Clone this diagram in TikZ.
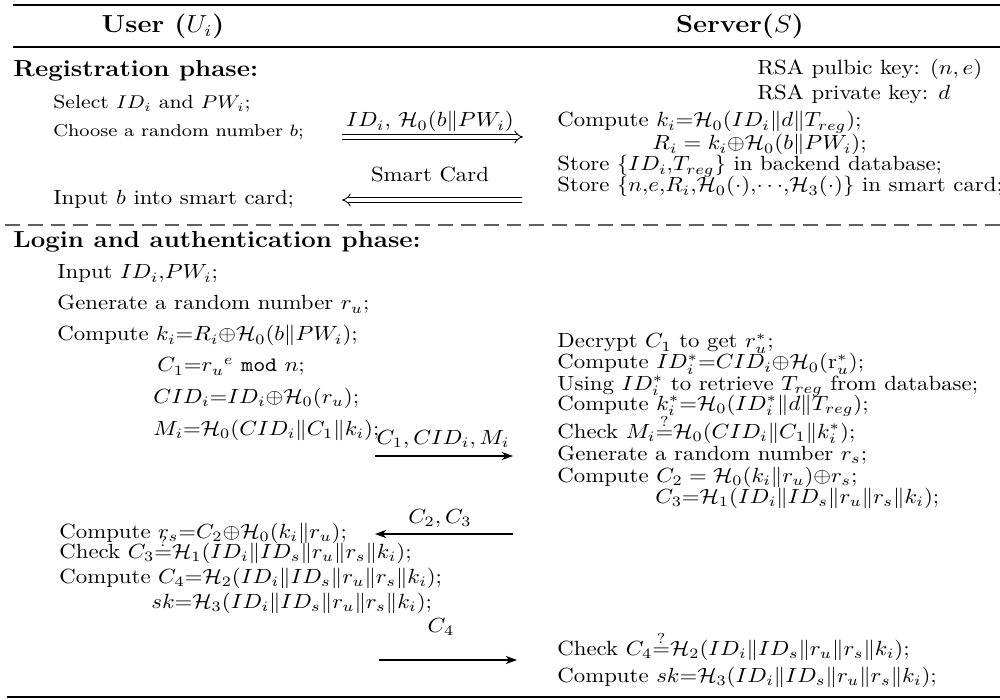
\documentclass[tikz,border=0pt]{standalone}
\usepackage{graphicx}
\usetikzlibrary{arrows.meta}
\newcommand{\vsq}[1]{\scalebox{1}[0.9]{#1}}
\begin{document}
\begin{tikzpicture}[x=0.4386pt,y=-0.4386pt,
  txt/.style={inner sep=0pt, anchor=base west, font=\fontsize{10}{12}\selectfont},
  selecttxt/.style={inner sep=0pt, anchor=base west, font=\fontsize{9.25}{11}\selectfont},
  smalltxt/.style={inner sep=0pt, anchor=base west, font=\fontsize{8.4}{10}\selectfont},
  lbl/.style={inner sep=0pt, anchor=base, font=\fontsize{10}{12}\selectfont},
  phase/.style={inner sep=0pt, anchor=base west, font=\fontsize{11.3}{13}\selectfont\bfseries},
  head/.style={inner sep=0pt, anchor=base, font=\large\bfseries},
  dbl/.style={double, double distance=1.6pt, line width=0.4pt},
  sgl/.style={line width=0.5pt},
  tip/.tip={Stealth[length=5pt,width=3.6pt,inset=1.6pt]}]
\useasboundingbox (0,0) rectangle (1000,700);
% rules
\draw[line width=1.2pt] (13,5) -- (1000,5);
\draw[line width=0.6pt] (13,47) -- (1000,47);
\draw[line width=1.2pt] (7,697) -- (1000,697);
\draw[gray!75!black, line width=0.7pt, dash pattern=on 6.5pt off 3.5pt] (5,225) -- (1000,225);
% headers
\node[head] (hu) at (163,33) {\vsq{User ($U_i$)}};
\node[head] (hs) at (740,33) {\vsq{Server($S$)}};
% registration
\node[phase] (reg) at (13,77) {\vsq{Registration phase:}};
\node[txt] (rsa1) at (757,75) {\vsq{RSA pulbic key: $(n,e)$}};
\node[txt] (rsa2) at (757,100) {\vsq{RSA private key: $d$}};
\node[selecttxt] (u1) at (53,109) {\vsq{Select $ID_i$ and $PW_i$;}};
\node[smalltxt] (u2) at (53,137) {\vsq{Choose a random number $b$;}};
\node[txt] (u3) at (53,205) {\vsq{Input $b$ into smart card;}};
\node[txt] (s1) at (557,127) {\vsq{Compute $k_i{=}\mathcal{H}_0(ID_i\|d\|T_{reg})$;}};
\node[txt] (s2) at (652,150) {\vsq{$R_i = k_i{\oplus}\mathcal{H}_0(b\|PW_i)$;}};
\node[txt] (s3) at (557,171) {\vsq{Store $\{ID_i{,}T_{reg}\}$ in backend database;}};
\node[txt] (s4) at (557,192) {\vsq{Store $\{n{,}e{,}R_i{,}\mathcal{H}_0(\cdot){,}{\cdots}{,}\mathcal{H}_3(\cdot)\}$ in smart card;}};
\coordinate (a1s) at (342,137);
\coordinate (a1e) at (523,137);
\draw[dbl, -{Implies}] (a1s) -- (a1e);
\node[lbl] (l1) at (430,127) {\vsq{$ID_i$, $\mathcal{H}_0(b\|PW_i)$}};
\coordinate (a2s) at (522,200);
\coordinate (a2e) at (342,200);
\draw[dbl, -{Implies}] (a2s) -- (a2e);
\node[lbl] (l2) at (430,182) {\vsq{Smart Card}};
% login
\node[phase] (log) at (13,248) {\vsq{Login and authentication phase:}};
\node[txt] (v1) at (57,279) {\vsq{Input $ID_i{,}PW_i$;}};
\node[txt] (v2) at (57,310) {\vsq{Generate a random number $r_u$;}};
\node[txt] (v3) at (57,341) {\vsq{Compute $k_i{=}R_i{\oplus}\mathcal{H}_0(b\|PW_i)$;}};
\node[txt] (v4) at (157,372) {\vsq{$C_1{=}{r_u}^{e}$ \texttt{mod} $n$;}};
\node[txt] (v5) at (153,403) {\vsq{$CID_i{=}ID_i{\oplus}\mathcal{H}_0(r_u)$;}};
\node[txt] (v6) at (153,435) {\vsq{$M_i{=}\mathcal{H}_0(CID_i\|C_1\|k_i)$;}};
\node[txt] (w1) at (557,348) {\vsq{Decrypt $C_1$ to get $r_u^*$;}};
\node[txt] (w2) at (557,369) {\vsq{Compute $ID_i^*{=}CID_i{\oplus}\mathcal{H}_0(\mathrm{r}_u^*)$;}};
\node[txt] (w3) at (557,390) {\vsq{Using $ID_i^*$ to retrieve $T_{reg}$ from database;}};
\node[txt] (w4) at (557,410) {\vsq{Compute $k_i^*{=}\mathcal{H}_0(ID_i^*\|d\|T_{reg})$;}};
\node[txt] (w5) at (557,438) {\vsq{Check $M_i{\stackrel{?}{=}}\mathcal{H}_0(CID_i\|C_1\|k_i^*)$;}};
\node[txt] (w6) at (557,460) {\vsq{Generate a random number $r_s$;}};
\node[txt] (w7) at (557,482) {\vsq{Compute $C_2 = \mathcal{H}_0(k_i\|r_u){\oplus}r_s$;}};
\node[txt] (w8) at (655,503) {\vsq{$C_3{=}\mathcal{H}_1(ID_i\|ID_s\|r_u\|r_s\|k_i)$;}};
\coordinate (a3s) at (375,456);
\coordinate (a3e) at (513,456);
\draw[sgl, -tip] (a3s) -- (a3e);
\node[lbl] (l3) at (443,444) {\vsq{$C_1,CID_i,M_i$}};
\coordinate (a4s) at (513,534);
\coordinate (a4e) at (375,534);
\draw[sgl, -tip] (a4s) -- (a4e);
\node[lbl] (l4) at (440,523) {\vsq{$C_2,C_3$}};
\node[txt] (x1) at (59,538) {\vsq{Compute $r_s{=}C_2{\oplus}\mathcal{H}_0(k_i\|r_u)$;}};
\node[txt] (x2) at (59,558) {\vsq{Check $C_3{\stackrel{?}{=}}\mathcal{H}_1(ID_i\|ID_s\|r_u\|r_s\|k_i)$;}};
\node[txt] (x3) at (59,583) {\vsq{Compute $C_4{=}\mathcal{H}_2(ID_i\|ID_s\|r_u\|r_s\|k_i)$;}};
\node[txt] (x4) at (151,608) {\vsq{$sk{=}\mathcal{H}_3(ID_i\|ID_s\|r_u\|r_s\|k_i)$;}};
\coordinate (a5s) at (379,660);
\coordinate (a5e) at (517,660);
\draw[sgl, -tip] (a5s) -- (a5e);
\node[lbl] (l5) at (441,632) {\vsq{$C_4$}};
\node[txt] (y1) at (557,655) {\vsq{Check $C_4{\stackrel{?}{=}}\mathcal{H}_2(ID_i\|ID_s\|r_u\|r_s\|k_i)$;}};
\node[txt] (y2) at (557,682) {\vsq{Compute $sk{=}\mathcal{H}_3(ID_i\|ID_s\|r_u\|r_s\|k_i)$;}};
\end{tikzpicture}
\end{document}
